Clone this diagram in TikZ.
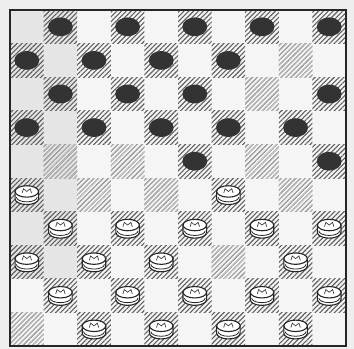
\documentclass[tikz,border=0pt]{standalone}
\usepackage{tikz}
\usetikzlibrary{patterns.meta}
\definecolor{paper}{RGB}{238,238,238}
\definecolor{hatch}{RGB}{95,95,95}
\tikzset{
  darksq/.style={fill=white!85!black, pattern={Lines[angle=45, distance=3.4pt, line width=1.1pt]}, pattern color=hatch},
  fadedsq/.style={fill=paper, pattern={Lines[angle=45, distance=3.4pt, line width=0.6pt]}, pattern color=hatch!30},
  frame/.style={draw=black!85, line width=2pt},
  blackpiece/.pic={
    \fill[black!80] (0,0) ellipse [x radius=0.37, y radius=0.28];
  },
  whitepiece/.pic={
    \filldraw[fill=white, draw=black!85, line width=1.1pt]
      (-0.35,-0.1) -- (-0.35,0.12) arc [start angle=180, end angle=0, x radius=0.35, y radius=0.17]
      -- (0.35,-0.1) -- cycle;
    \draw[black!85, line width=0.8pt] (-0.31,0.07) arc [start angle=180, end angle=0, x radius=0.31, y radius=0.14];
    \filldraw[fill=white, draw=black!85, line width=1.1pt] (0,-0.1) ellipse [x radius=0.35, y radius=0.17];
    \draw[black!75, line width=0.7pt] (-0.14,-0.05) -- (-0.1,-0.18) -- (0,-0.1) -- (0.1,-0.18) -- (0.14,-0.05);
  },
}

\begin{document}
\begin{tikzpicture}[x=33.6pt, y=-33.6pt]
  \useasboundingbox[fill=paper] (-0.298,-0.298) rectangle (10.238,10.089);

  % board
  \fill[white!96!black] (0,0) rectangle (10,10);
  \fill[gray!20] (0,0) rectangle (2,8);
  \foreach \r in {0,...,9} {
    \foreach \c in {0,...,9} {
      \pgfmathparse{int(mod(\r+\c,2))}
      \ifnum\pgfmathresult=1
        \path[darksq] (\c,\r) rectangle ++(1,1);
      \fi
    }
  }

  % empty dark squares
  \foreach \c/\r in {8/1, 7/2, 1/4, 3/4, 7/4, 2/5, 4/5, 8/5, 6/7, 0/9}
    \path[fadedsq] (\c,\r) rectangle ++(1,1);

  \draw[frame] (0,0) rectangle (10,10);

  % Black side
  \foreach \c/\r in {1/0, 3/0, 5/0, 7/0, 9/0,
                     0/1, 2/1, 4/1, 6/1,
                     1/2, 3/2, 5/2, 9/2,
                     0/3, 2/3, 4/3, 6/3, 8/3,
                     5/4, 9/4}
    \pic at (\c+0.5,\r+0.5) {blackpiece};

  % White side
  \foreach \c/\r in {0/5, 6/5,
                     1/6, 3/6, 5/6, 7/6, 9/6,
                     0/7, 2/7, 4/7, 8/7,
                     1/8, 3/8, 5/8, 7/8, 9/8,
                     2/9, 4/9, 6/9, 8/9}
    \pic at (\c+0.5,\r+0.5) {whitepiece};

\end{tikzpicture}
\end{document}
